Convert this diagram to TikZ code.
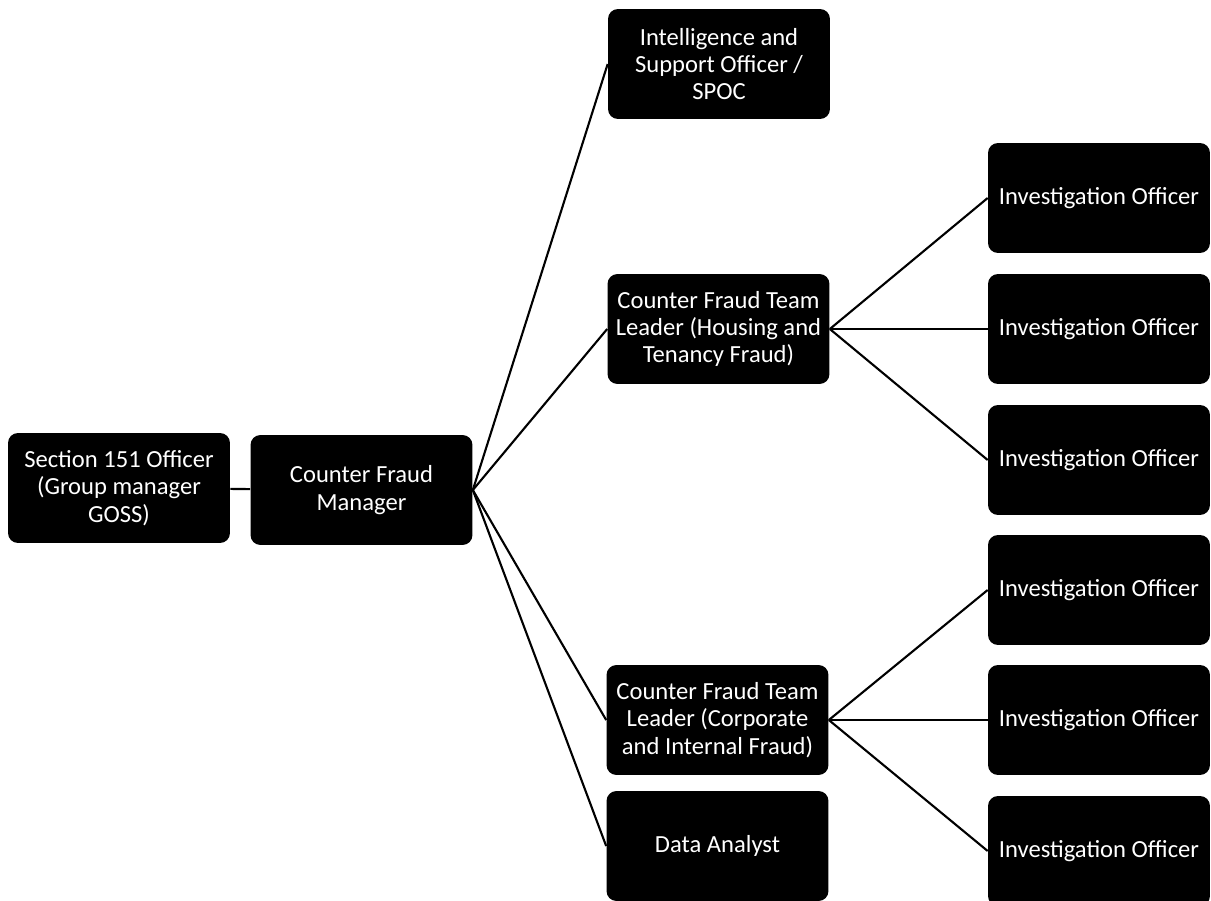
\documentclass[tikz,border=0pt]{standalone}
\usepackage{fontspec}
\setmainfont{Carlito}
\usepackage{tikz}

\begin{document}
\begin{tikzpicture}[x=0.02cm, y=-0.02cm,
  every node/.style={rectangle, rounded corners=0.2cm, fill=black, text=white,
    minimum width=4.44cm, minimum height=2.2cm, align=center, inner sep=1pt,
    font=\fontsize{14}{15.6}\selectfont},
  link/.style={line width=1.2pt, black}]
\useasboundingbox (0,0) rectangle (1211,900);
\node (s151) at (119, 488) {Section 151 Officer\\(Group manager\\GOSS)};
\node (cfm) at (361.5, 490) {Counter Fraud\\Manager};
\node (spoc) at (719, 64) {Intelligence and\\Support Officer /\\SPOC};
\node (tlh) at (718.5, 329) {Counter Fraud Team\\Leader (Housing and\\Tenancy Fraud)};
\node (tlc) at (717.5, 720) {Counter Fraud Team\\Leader (Corporate\\and Internal Fraud)};
\node (da) at (717.5, 846) {Data Analyst};
\node (io1) at (1099, 198) {Investigation Officer};
\node (io2) at (1099, 329) {Investigation Officer};
\node (io3) at (1099, 460) {Investigation Officer};
\node (io4) at (1099, 590) {Investigation Officer};
\node (io5) at (1099, 720) {Investigation Officer};
\node (io6) at (1099, 851) {Investigation Officer};
\draw[link] (s151) -- (cfm);
\draw[link] (cfm.east) -- (spoc.west);
\draw[link] (cfm.east) -- (tlh.west);
\draw[link] (cfm.east) -- (tlc.west);
\draw[link] (cfm.east) -- (da.west);
\draw[link] (tlh.east) -- (io1.west);
\draw[link] (tlh.east) -- (io2.west);
\draw[link] (tlh.east) -- (io3.west);
\draw[link] (tlc.east) -- (io4.west);
\draw[link] (tlc.east) -- (io5.west);
\draw[link] (tlc.east) -- (io6.west);
\end{tikzpicture}
\end{document}
